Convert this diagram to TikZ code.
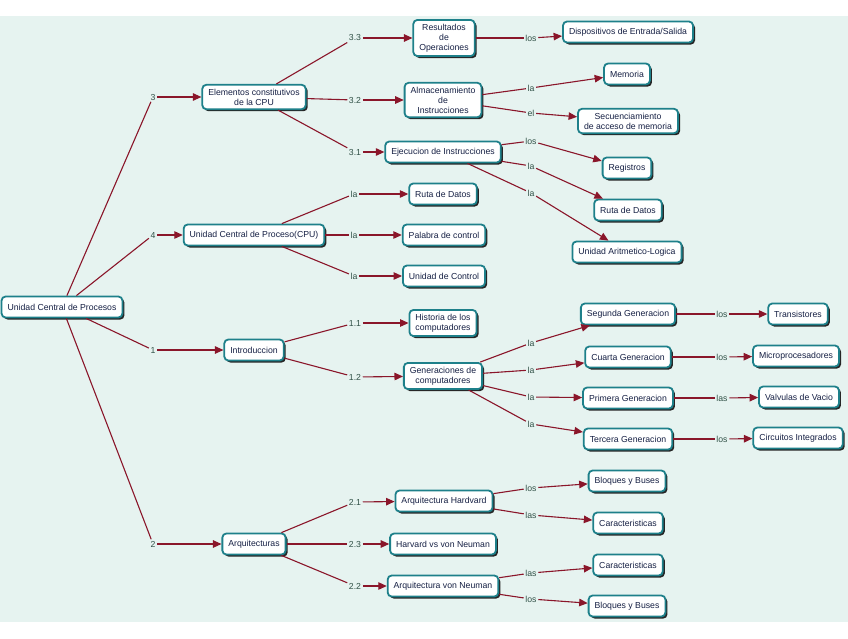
\documentclass[tikz,border=0pt]{standalone}
\usepackage{fontspec}
\setmainfont{Liberation Sans}
\usepackage{tikz}
\usetikzlibrary{arrows.meta,shadows}
\definecolor{bgmint}{RGB}{230,243,240}
\definecolor{boxteal}{RGB}{30,128,138}
\definecolor{linkred}{RGB}{138,22,42}
\definecolor{textnavy}{RGB}{22,32,68}
\definecolor{labelgray}{RGB}{50,82,72}
\tikzset{
	concept/.style={draw=boxteal, line width=1.8pt, fill=white, rounded corners=4pt,
		align=center, text=textnavy, inner xsep=6pt, inner ysep=4pt, minimum height=21pt,
		font=\fontsize{8.7}{10}\selectfont,
		drop shadow={shadow xshift=2pt, shadow yshift=-2pt, fill=black!85, opacity=1}},
	linklabel/.style={text=labelgray, inner sep=1.5pt, font=\fontsize{8.7}{10}\selectfont},
	link/.style={draw=linkred, line width=1.1pt},
	linkarrow/.style={link, -{Triangle[length=8.5pt,width=7.5pt]}}
}
\def\branch(#1)(#2)(#3){\draw[link] (#1) -- (#2); \draw[linkarrow] (#2) -- (#3);}

\begin{document}
\begin{tikzpicture}[x=1pt, y=-1pt]
		%%%%% START %%%%%
		
		\useasboundingbox (0, 0) rectangle (848, 638);
		\fill[bgmint] (0, 16) rectangle (848, 622);
		
		\node[concept] (root) at (62, 307) {Unidad Central de Procesos};
		
		\node[concept] (elem) at (254, 97) {Elementos constitutivos\\de la CPU};
		\node[concept] (ucp) at (254, 235) {Unidad Central de Proceso(CPU)};
		\node[concept] (intro) at (254, 350) {Introduccion};
		\node[concept] (arq) at (254, 544) {Arquitecturas};
		
		\node[concept] (res) at (444, 38) {Resultados\\de\\Operaciones};
		\node[concept] (alm) at (443, 100) {Almacenamiento\\de\\Instrucciones};
		\node[concept] (eje) at (443, 152) {Ejecucion de Instrucciones};
		\node[concept] (ruta1) at (443, 194) {Ruta de Datos};
		\node[concept] (pal) at (444, 235) {Palabra de control};
		\node[concept] (uctrl) at (444, 276) {Unidad de Control};
		\node[concept] (hist) at (443, 323) {Historia de los\\computadores};
		\node[concept] (gen) at (443, 376) {Generaciones de\\computadores};
		\node[concept] (hard) at (444, 501) {Arquitectura Hardvard};
		\node[concept] (hvn) at (443, 544) {Harvard vs von Neuman};
		\node[concept] (vn) at (443, 586) {Arquitectura von Neuman};
		
		\node[concept] (disp) at (628, 32) {Dispositivos de Entrada/Salida};
		\node[concept] (mem) at (627, 74) {Memoria};
		\node[concept] (sec) at (628, 121) {Secuenciamiento\\de acceso de memoria};
		\node[concept] (reg) at (627, 168) {Registros};
		\node[concept] (ruta2) at (628, 210) {Ruta de Datos};
		\node[concept] (alu) at (627, 252) {Unidad Aritmetico-Logica};
		\node[concept] (seg) at (628, 314) {Segunda Generacion};
		\node[concept] (cuar) at (628, 357) {Cuarta Generacion};
		\node[concept] (prim) at (628, 398) {Primera Generacion};
		\node[concept] (terc) at (628, 439) {Tercera Generacion};
		\node[concept] (bloq1) at (627, 481) {Bloques y Buses};
		\node[concept] (car1) at (628, 523) {Caracteristicas};
		\node[concept] (car2) at (628, 565) {Caracteristicas};
		\node[concept] (bloq2) at (627, 606) {Bloques y Buses};
		
		\node[concept] (trans) at (798, 314) {Transistores};
		\node[concept] (micro) at (796, 356) {Microprocesadores};
		\node[concept] (valv) at (799, 397) {Valvulas de Vacio};
		\node[concept] (circ) at (798, 438) {Circuitos Integrados};
		
		% link labels
		\node[linklabel] (l3) at (153, 97) {3};
		\node[linklabel] (l4) at (153, 235) {4};
		\node[linklabel] (l1) at (153, 350) {1};
		\node[linklabel] (l2) at (153, 544) {2};
		\node[linklabel] (l33) at (355, 38) {3.3};
		\node[linklabel] (l32) at (355, 100) {3.2};
		\node[linklabel] (l31) at (355, 152) {3.1};
		\node[linklabel] (lruta1) at (354, 194) {la};
		\node[linklabel] (lpal) at (354, 235) {la};
		\node[linklabel] (luctrl) at (354, 276) {la};
		\node[linklabel] (l11) at (355, 323) {1.1};
		\node[linklabel] (l12) at (355, 377) {1.2};
		\node[linklabel] (l21) at (355, 502) {2.1};
		\node[linklabel] (l23) at (355, 544) {2.3};
		\node[linklabel] (l22) at (355, 586) {2.2};
		\node[linklabel] (ldisp) at (531, 38) {los};
		\node[linklabel] (lmem) at (531, 88) {la};
		\node[linklabel] (lsec) at (531, 113) {el};
		\node[linklabel] (lreg) at (531, 141) {los};
		\node[linklabel] (lruta2) at (531, 166) {la};
		\node[linklabel] (lalu) at (531, 193) {la};
		\node[linklabel] (lseg) at (531, 343) {la};
		\node[linklabel] (lcuar) at (531, 370) {la};
		\node[linklabel] (lprim) at (531, 397) {la};
		\node[linklabel] (lterc) at (531, 424) {la};
		\node[linklabel] (lbloq1) at (531, 488) {los};
		\node[linklabel] (lcar1) at (531, 515) {las};
		\node[linklabel] (lcar2) at (531, 573) {las};
		\node[linklabel] (lbloq2) at (531, 599) {los};
		\node[linklabel] (ltrans) at (722, 314) {los};
		\node[linklabel] (lmicro) at (722, 357) {los};
		\node[linklabel] (lvalv) at (722, 398) {las};
		\node[linklabel] (lcirc) at (722, 439) {los};
		
		% connectors
		\branch(root)(l3)(elem)
		\branch(root)(l4)(ucp)
		\branch(root)(l1)(intro)
		\branch(root)(l2)(arq)
		
		\branch(elem)(l33)(res)
		\branch(elem)(l32)(alm)
		\branch(elem)(l31)(eje)
		\branch(ucp)(lruta1)(ruta1)
		\branch(ucp)(lpal)(pal)
		\branch(ucp)(luctrl)(uctrl)
		\branch(intro)(l11)(hist)
		\branch(intro)(l12)(gen)
		\branch(arq)(l21)(hard)
		\branch(arq)(l23)(hvn)
		\branch(arq)(l22)(vn)
		
		\branch(res)(ldisp)(disp)
		\branch(alm)(lmem)(mem)
		\branch(alm)(lsec)(sec)
		\branch(eje)(lreg)(reg)
		\branch(eje)(lruta2)(ruta2)
		\branch(eje)(lalu)(alu)
		\branch(gen)(lseg)(seg)
		\branch(gen)(lcuar)(cuar)
		\branch(gen)(lprim)(prim)
		\branch(gen)(lterc)(terc)
		\branch(hard)(lbloq1)(bloq1)
		\branch(hard)(lcar1)(car1)
		\branch(vn)(lcar2)(car2)
		\branch(vn)(lbloq2)(bloq2)
		
		\branch(seg)(ltrans)(trans)
		\branch(cuar)(lmicro)(micro)
		\branch(prim)(lvalv)(valv)
		\branch(terc)(lcirc)(circ)
		
		%%%%% END %%%%%
	\end{tikzpicture}
\end{document}
